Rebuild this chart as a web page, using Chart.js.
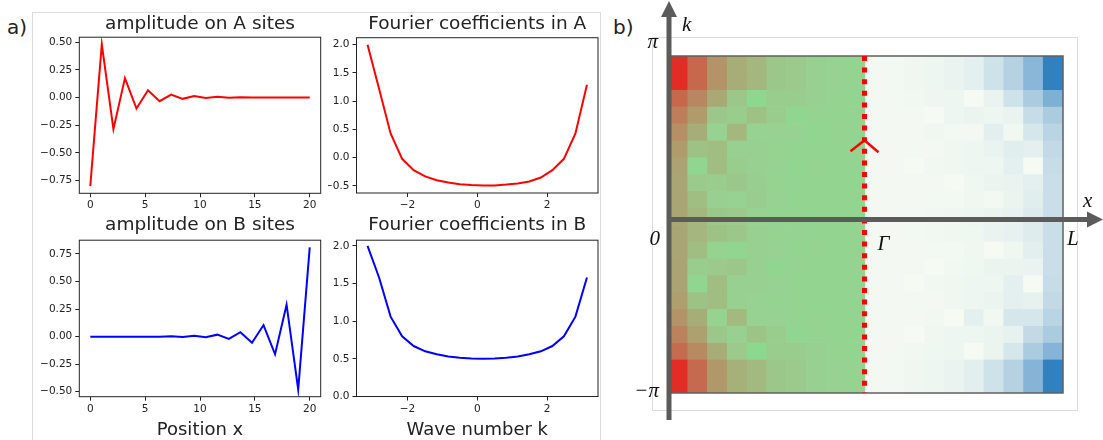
<!DOCTYPE html>
<html>
<head>
<meta charset="utf-8">
<script src="https://cdn.jsdelivr.net/npm/chart.js@4.4.1/dist/chart.umd.min.js"></script>
<style>
  html, body { margin: 0; padding: 0; background: #fff; }
  body { width: 1103px; height: 440px; overflow: hidden; position: relative; font-family: "DejaVu Sans", sans-serif; }
  .frame { position: absolute; border: 1px solid #dcdcdc; box-sizing: border-box; }
  .tag { position: absolute; font-size: 20px; color: #222; line-height: normal; }
  canvas { position: absolute; }
</style>
</head>
<body>
<div class="frame" style="left:32px;top:12px;width:569px;height:440px;"></div>
<div class="frame" style="left:652px;top:37px;width:426px;height:374px;"></div>
<div class="tag" style="left:7px;top:15px;">a)</div>
<div class="tag" style="left:613px;top:15px;">b)</div>

<canvas id="ampA" width="330" height="220" style="left:35px;top:0px;"></canvas>
<canvas id="fourA" width="298" height="220" style="left:328px;top:0px;"></canvas>
<canvas id="ampB" width="330" height="250" style="left:35px;top:200px;"></canvas>
<canvas id="fourB" width="298" height="250" style="left:328px;top:200px;"></canvas>
<canvas id="heat" width="498" height="440" style="left:605px;top:0px;"></canvas>

<script>
// ---- data ----
const positionX = [0, 1.05, 2.11, 3.16, 4.21, 5.26, 6.32, 7.37, 8.42, 9.47,
                   10.53, 11.58, 12.63, 13.68, 14.74, 15.79, 16.84, 17.89, 18.95, 20];
const waveK = [-3.14, -2.81, -2.48, -2.15, -1.82, -1.49, -1.16, -0.83, -0.50, -0.17,
               0.17, 0.50, 0.83, 1.16, 1.49, 1.82, 2.15, 2.48, 2.81, 3.14];

const ampA = [-0.80, 0.48, -0.285, 0.175, -0.10, 0.066, -0.033, 0.027, -0.012, 0.014,
              -0.004, 0.006, -0.002, 0.003, -0.001, 0.001, 0, 0, 0, 0];
const ampB = [0, 0, 0, 0, 0, 0, 0, 0.003, -0.003, 0.008,
              -0.006, 0.018, -0.02, 0.04, -0.055, 0.105, -0.16, 0.29, -0.48, 0.81];
const fourierA = [2.0, 1.22, 0.43, -0.02, -0.22, -0.33, -0.40, -0.44, -0.47, -0.485,
                  -0.49, -0.49, -0.475, -0.455, -0.42, -0.35, -0.22, -0.02, 0.43, 1.29];
const fourierB = [2.0, 1.58, 1.06, 0.80, 0.67, 0.60, 0.56, 0.53, 0.515, 0.505,
                  0.50, 0.505, 0.515, 0.53, 0.56, 0.60, 0.67, 0.80, 1.06, 1.58];

const posTicks = [0, 5, 10, 15, 20];
const kTicks = [-2, 0, 2];
const ampATicks = [-0.75, -0.5, -0.25, 0, 0.25, 0.5];
const ampBTicks = [-0.5, -0.25, 0, 0.25, 0.5, 0.75];
const fourATicks = [-0.5, 0, 0.5, 1, 1.5, 2];
const fourBTicks = [0, 0.5, 1, 1.5, 2];

// heat map weights, rows listed from top (k = pi) to bottom (k = -pi)
// left half: red (1) -> green (0) ; right half: white (0) -> blue (1)
const weightA = [
  [1.00, 0.68, 0.42, 0.28, 0.22, 0.12, 0.10, 0.06, 0.05, 0.04],
  [1.00, 0.68, 0.42, 0.28, 0.22, 0.12, 0.10, 0.06, 0.05, 0.04],
  [0.68, 0.50, 0.30, 0.12, 0.00, 0.08, 0.08, 0.06, 0.04, 0.03],
  [0.55, 0.38, 0.12, 0.08, 0.15, 0.08, 0.02, 0.04, 0.03, 0.03],
  [0.45, 0.28, 0.05, 0.22, 0.05, 0.05, 0.05, 0.02, 0.04, 0.03],
  [0.38, 0.15, 0.18, 0.06, 0.06, 0.04, 0.03, 0.03, 0.03, 0.03],
  [0.33, 0.02, 0.18, 0.08, 0.06, 0.05, 0.02, 0.04, 0.03, 0.03],
  [0.32, 0.10, 0.09, 0.12, 0.07, 0.04, 0.03, 0.03, 0.03, 0.03],
  [0.32, 0.18, 0.06, 0.05, 0.08, 0.05, 0.03, 0.03, 0.03, 0.03],
  [0.32, 0.22, 0.12, 0.10, 0.05, 0.04, 0.04, 0.03, 0.03, 0.03],
  [0.32, 0.22, 0.15, 0.12, 0.06, 0.04, 0.04, 0.03, 0.03, 0.03],
  [0.32, 0.18, 0.04, 0.02, 0.06, 0.05, 0.03, 0.04, 0.03, 0.03],
  [0.33, 0.08, 0.10, 0.12, 0.06, 0.02, 0.04, 0.03, 0.03, 0.03],
  [0.33, 0.02, 0.18, 0.06, 0.06, 0.05, 0.03, 0.03, 0.03, 0.03],
  [0.36, 0.15, 0.18, 0.06, 0.05, 0.04, 0.04, 0.03, 0.03, 0.03],
  [0.42, 0.28, 0.04, 0.20, 0.05, 0.05, 0.03, 0.04, 0.03, 0.03],
  [0.52, 0.35, 0.12, 0.06, 0.14, 0.08, 0.02, 0.04, 0.03, 0.03],
  [0.65, 0.48, 0.28, 0.10, 0.00, 0.08, 0.08, 0.06, 0.04, 0.03],
  [1.00, 0.66, 0.40, 0.26, 0.20, 0.12, 0.10, 0.06, 0.05, 0.04],
  [1.00, 0.66, 0.40, 0.26, 0.20, 0.12, 0.10, 0.06, 0.05, 0.04],
];
const weightB = [
  [0.02, 0.03, 0.05, 0.08, 0.12, 0.18, 0.35, 0.50, 0.70, 1.00],
  [0.02, 0.03, 0.05, 0.08, 0.12, 0.18, 0.35, 0.50, 0.70, 1.00],
  [0.02, 0.03, 0.04, 0.07, 0.08, 0.00, 0.12, 0.35, 0.55, 0.75],
  [0.02, 0.02, 0.03, 0.00, 0.08, 0.10, 0.08, 0.12, 0.40, 0.55],
  [0.02, 0.02, 0.02, 0.05, 0.03, 0.02, 0.20, 0.04, 0.30, 0.48],
  [0.02, 0.02, 0.03, 0.02, 0.05, 0.08, 0.12, 0.22, 0.18, 0.42],
  [0.02, 0.02, 0.00, 0.04, 0.05, 0.08, 0.08, 0.18, 0.00, 0.40],
  [0.02, 0.02, 0.02, 0.02, 0.00, 0.06, 0.10, 0.12, 0.18, 0.38],
  [0.02, 0.02, 0.02, 0.03, 0.03, 0.05, 0.03, 0.10, 0.22, 0.38],
  [0.02, 0.02, 0.03, 0.04, 0.05, 0.08, 0.10, 0.14, 0.26, 0.38],
  [0.02, 0.02, 0.03, 0.04, 0.05, 0.06, 0.12, 0.15, 0.25, 0.38],
  [0.02, 0.02, 0.02, 0.03, 0.03, 0.05, 0.00, 0.05, 0.20, 0.38],
  [0.02, 0.02, 0.02, 0.00, 0.04, 0.06, 0.10, 0.10, 0.12, 0.38],
  [0.02, 0.02, 0.00, 0.04, 0.05, 0.08, 0.08, 0.18, 0.00, 0.40],
  [0.02, 0.02, 0.03, 0.02, 0.05, 0.08, 0.10, 0.18, 0.15, 0.42],
  [0.02, 0.02, 0.02, 0.04, 0.00, 0.18, 0.04, 0.30, 0.30, 0.48],
  [0.02, 0.02, 0.00, 0.05, 0.08, 0.08, 0.10, 0.15, 0.42, 0.55],
  [0.02, 0.03, 0.04, 0.06, 0.08, 0.00, 0.10, 0.30, 0.55, 0.72],
  [0.02, 0.03, 0.05, 0.08, 0.12, 0.20, 0.35, 0.50, 0.72, 1.00],
  [0.02, 0.03, 0.05, 0.08, 0.12, 0.20, 0.35, 0.50, 0.72, 1.00],
];

// colour stops [position, r, g, b]
const redGreenStops = [[0, 140, 216, 142], [0.05, 151, 210, 146], [0.25, 165, 178, 122],
                       [0.65, 196, 108, 80], [1, 226, 44, 38]];
const bluesStops = [[0, 245, 250, 242], [0.25, 222, 236, 238], [0.5, 182, 210, 226],
                    [0.75, 126, 176, 212], [1, 50, 129, 190]];

function colourAt(stops, t) {
  for (let i = 1; i < stops.length; i++) {
    if (t <= stops[i][0]) {
      const a = stops[i - 1], b = stops[i];
      const f = (t - a[0]) / (b[0] - a[0]);
      const c = [1, 2, 3].map(j => Math.round(a[j] + f * (b[j] - a[j])));
      return `rgb(${c[0]},${c[1]},${c[2]})`;
    }
  }
  const l = stops[stops.length - 1];
  return `rgb(${l[1]},${l[2]},${l[3]})`;
}

const INK = '#222';
const fmt = (v, d) => v.toFixed(d).replace('-', '\u2212');

// full box around each plot (matplotlib spines)
const boxPlugin = {
  id: 'box',
  afterDraw(chart) {
    const { ctx, chartArea: ca } = chart;
    ctx.save();
    ctx.strokeStyle = INK;
    ctx.lineWidth = 1;
    ctx.strokeRect(ca.left, ca.top, ca.right - ca.left, ca.bottom - ca.top);
    ctx.restore();
  }
};

function makeLine(id, xs, ys, colour, cfg) {
  const points = xs.map((x, i) => ({ x, y: ys[i] }));
  const tickGrid = { display: true, drawOnChartArea: false, drawTicks: true, tickLength: 4, color: INK, lineWidth: 1 };
  return new Chart(document.getElementById(id), {
    type: 'line',
    data: {
      datasets: [{
        data: points,
        borderColor: colour,
        borderWidth: 2,
        pointRadius: 0,
        tension: 0,
        fill: false,
      }],
    },
    options: {
      responsive: false,
      animation: false,
      events: [],
      layout: { padding: { left: 0, right: cfg.padRight, top: 0, bottom: 0 } },
      plugins: {
        legend: { display: false },
        tooltip: { enabled: false },
        title: {
          display: true,
          fullSize: false,          // centre over the plot area, like matplotlib
          text: cfg.title,
          color: INK,
          font: { family: 'DejaVu Sans', size: 18.5, weight: 'normal' },
          padding: { top: cfg.titleTop, bottom: cfg.titleBottom },
        },
      },
      scales: {
        x: {
          type: 'linear',
          min: cfg.xMin,
          max: cfg.xMax,
          afterBuildTicks: s => { s.ticks = cfg.xTicks.map(v => ({ value: v })); },
          afterFit: s => { s.height = cfg.xAxisH; },
          ticks: {
            color: INK,
            font: { family: 'DejaVu Sans', size: 10.5 },
            padding: 2,
            maxRotation: 0,
            callback: v => fmt(v, 0),
          },
          grid: tickGrid,
          border: { display: false },
          title: cfg.xLabel
            ? { display: true, text: cfg.xLabel, color: INK, font: { family: 'DejaVu Sans', size: 18 }, padding: { top: 0, bottom: cfg.xLabelPad } }
            : { display: false },
        },
        y: {
          min: cfg.yMin,
          max: cfg.yMax,
          afterBuildTicks: s => { s.ticks = cfg.yTicks.map(v => ({ value: v })); },
          afterFit: s => { s.width = cfg.yAxisW; },
          ticks: {
            color: INK,
            font: { family: 'DejaVu Sans', size: 10.5 },
            padding: 3,
            callback: v => fmt(v, cfg.yDec),
          },
          grid: tickGrid,
          border: { display: false },
        },
      },
    },
    plugins: [boxPlugin],
  });
}

makeLine('ampA', positionX, ampA, '#ff0000', {
  title: 'amplitude on A sites', titleTop: 13, titleBottom: 2,
  xMin: -1, xMax: 21, xTicks: posTicks, xAxisH: 26.7,
  yMin: -0.864, yMax: 0.544, yTicks: ampATicks, yDec: 2, yAxisW: 44.3, padRight: 44.3,
});
makeLine('fourA', waveK, fourierA, '#ff0000', {
  title: 'Fourier coefficients in A', titleTop: 13, titleBottom: 2.5,
  xMin: -3.456, xMax: 3.456, xTicks: kTicks, xAxisH: 27,
  yMin: -0.625, yMax: 2.125, yTicks: fourATicks, yDec: 1, yAxisW: 28.5, padRight: 28,
});
makeLine('ampB', positionX, ampB, '#0000ff', {
  title: 'amplitude on B sites', titleTop: 14, titleBottom: 4,
  xMin: -1, xMax: 21, xTicks: posTicks, xAxisH: 53.3, xLabel: 'Position x', xLabelPad: 9,
  yMin: -0.545, yMax: 0.875, yTicks: ampBTicks, yDec: 2, yAxisW: 44.3, padRight: 44.3,
});
makeLine('fourB', waveK, fourierB, '#0000ff', {
  title: 'Fourier coefficients in B', titleTop: 14, titleBottom: 4,
  xMin: -3.456, xMax: 3.456, xTicks: kTicks, xAxisH: 53.5, xLabel: 'Wave number k', xLabelPad: 9,
  yMin: 0, yMax: 2.075, yTicks: fourBTicks, yDec: 1, yAxisW: 28.5, padRight: 28,
});

// ---- panel b: heat map of the wave function over (x, k) ----
const heatOverlay = {
  id: 'heatOverlay',
  afterDatasetsDraw(chart) {
    const { ctx, chartArea: ca, scales: { x, y } } = chart;
    const mid = (x.getPixelForValue(9) + x.getPixelForValue(10)) / 2;
    ctx.save();

    // outline of the map
    ctx.strokeStyle = '#606060';
    ctx.lineWidth = 1.5;
    ctx.strokeRect(ca.left, ca.top, ca.right - ca.left, ca.bottom - ca.top);

    // dotted red line between the two halves
    ctx.strokeStyle = '#ff0000';
    ctx.lineWidth = 5;
    ctx.setLineDash([5, 6.6]);
    ctx.beginPath();
    ctx.moveTo(mid - 1, ca.top);
    ctx.lineTo(mid - 1, ca.bottom);
    ctx.stroke();
    ctx.setLineDash([]);

    // little arrow head on it
    const cy = y.getPixelForValue(15);
    ctx.lineWidth = 2.5;
    ctx.beginPath();
    ctx.moveTo(mid - 15, cy + 11);
    ctx.lineTo(mid - 1, cy);
    ctx.lineTo(mid + 13, cy + 12);
    ctx.stroke();

    // k and x axes with arrow heads
    const ax = ca.left + 1;
    const ay = y.getPixelForValue(10.3);
    ctx.strokeStyle = '#5b5b5b';
    ctx.fillStyle = '#5b5b5b';
    ctx.lineWidth = 5;
    ctx.beginPath();
    ctx.moveTo(ax, chart.height - 20);
    ctx.lineTo(ax, 16);
    ctx.moveTo(ax - 2.5, ay);
    ctx.lineTo(chart.width - 14, ay);
    ctx.stroke();
    ctx.beginPath();
    ctx.moveTo(ax, 1);
    ctx.lineTo(ax + 8, 17);
    ctx.lineTo(ax - 8, 17);
    ctx.closePath();
    ctx.fill();
    ctx.beginPath();
    ctx.moveTo(chart.width, ay);
    ctx.lineTo(chart.width - 16, ay - 8);
    ctx.lineTo(chart.width - 16, ay + 8);
    ctx.closePath();
    ctx.fill();

    // axis annotations
    ctx.fillStyle = '#111';
    ctx.font = 'italic 21px "Liberation Serif"';
    ctx.textBaseline = 'alphabetic';
    ctx.textAlign = 'left';
    ctx.fillText('k', ax + 13, 31);
    ctx.fillText('x', chart.width - 20, ay - 12);
    ctx.fillText('\u0393', mid + 12, ay + 31);
    ctx.fillText('L', ca.right + 4, ay + 26);
    ctx.textAlign = 'right';
    ctx.fillText('\u03c0', ax - 11, ca.top - 8);
    ctx.fillText('0', ax - 9, ay + 26);
    ctx.fillText('\u2212\u03c0', ax - 10, ca.bottom + 4);
    ctx.restore();
  }
};

const heatDatasets = weightA.map((rowA, i) => {
  const kIndex = waveK.length - 1 - i;        // top row is k = pi
  const colours = rowA.map(t => colourAt(redGreenStops, t))
    .concat(weightB[i].map(t => colourAt(bluesStops, t)));
  return {
    data: positionX.map(() => [kIndex, kIndex + 1]),
    backgroundColor: colours,
    borderWidth: 0,
    grouped: false,
    barPercentage: 1,
    categoryPercentage: 1,
  };
});

new Chart(document.getElementById('heat'), {
  type: 'bar',
  data: { labels: positionX.map(String), datasets: heatDatasets },
  options: {
    responsive: false,
    animation: false,
    events: [],
    layout: { padding: { left: 63, right: 40, top: 56, bottom: 47 } },
    plugins: { legend: { display: false }, tooltip: { enabled: false } },
    scales: {
      x: { display: false },
      y: { display: false, min: 0, max: waveK.length },
    },
  },
  plugins: [heatOverlay],
});
</script>
</body>
</html>
